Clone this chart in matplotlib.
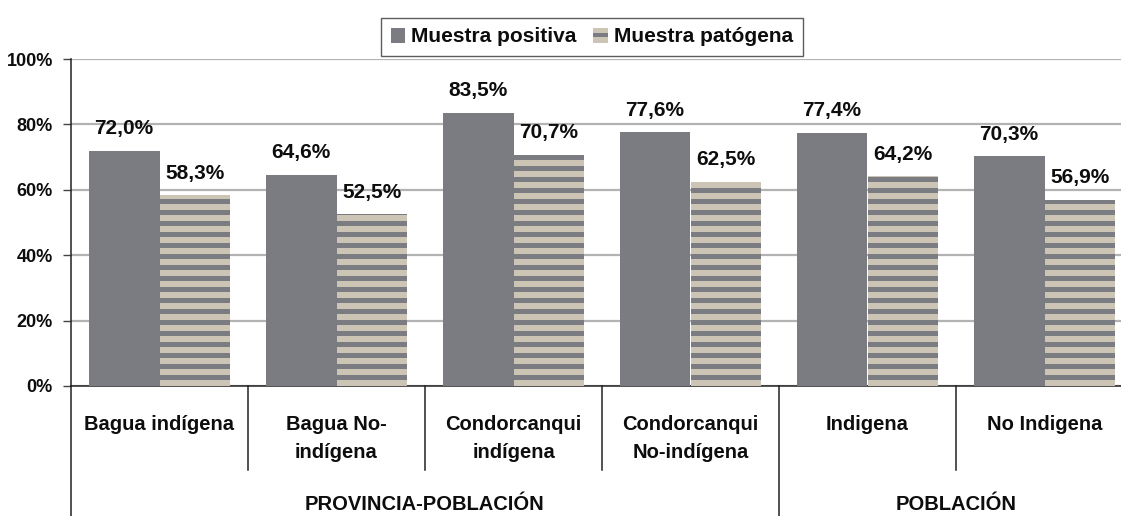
import numpy as np
import matplotlib
matplotlib.use("Agg")
import matplotlib.pyplot as plt
from matplotlib.lines import Line2D
from matplotlib.patches import Rectangle
from matplotlib.legend_handler import HandlerBase

categories = ["Bagua indígena", "Bagua No-\nindígena", "Condorcanqui\nindígena",
              "Condorcanqui\nNo-indígena", "Indigena", "No Indigena"]
positiva = [72.0, 64.6, 83.5, 77.6, 77.4, 70.3]
patogena = [58.3, 52.5, 70.7, 62.5, 64.2, 56.9]
series_names = ["Muestra positiva", "Muestra patógena"]
groups = ["PROVINCIA-POBLACIÓN", "POBLACIÓN"]
group_spans = [(0, 3), (4, 5)]
yticks = [0, 20, 40, 60, 80, 100]

FONT = ["Liberation Sans", "DejaVu Sans"]
plt.rcParams["font.family"] = FONT

GRAY = "#7b7c82"
BEIGE = "#ccc5b5"
TXT = "#0d0d0d"

W, H = 1121, 516
fig = plt.figure(figsize=(W / 100, H / 100), dpi=100)
ax_l, ax_r, ax_t, ax_b = 71, 1133, 59, 386
ax = fig.add_axes([ax_l / W, 1 - ax_b / H, (ax_r - ax_l) / W, (ax_b - ax_t) / H])

x = np.arange(len(categories))
bw = 0.4
b1 = ax.bar(x - bw / 2, positiva, bw, color=GRAY, zorder=3, label=series_names[0])
b2 = ax.bar(x + bw / 2, patogena, bw, color=BEIGE, zorder=3, label=series_names[1])

# horizontal stripes on the patterned bars
px_per_unit = (ax_b - ax_t) / 100.0
period = 11 / px_per_unit
stripe_start = 6 / px_per_unit
levels = np.arange(stripe_start, 100, period)
for rect in b2.patches:
    s = ax.bar(np.full(len(levels), rect.get_x() + rect.get_width() / 2), 5 / px_per_unit,
               rect.get_width(), bottom=levels, color=GRAY, zorder=4, linewidth=0)
    for sp in s.patches:
        sp.set_clip_path(rect)

# value labels
for rects, vals in ((b1, positiva), (b2, patogena)):
    for r, v in zip(rects.patches, vals):
        ax.annotate(f"{v:.1f}%".replace(".", ","), (r.get_x() + r.get_width() / 2, v),
                    xytext=(0, 9), textcoords="offset points", ha="center", va="bottom",
                    fontsize=15, fontweight="bold", color=TXT)

ax.set_ylim(0, 100)
ax.set_xlim(-0.5, len(categories) - 0.5)
ax.set_yticks(yticks)
ax.set_yticklabels([f"{t}%" for t in yticks], fontsize=13, fontweight="bold", color=TXT)
ax.yaxis.grid(True, color="#b3b3b3", linewidth=1.6, zorder=0)
ax.set_axisbelow(True)
ax.tick_params(axis="y", length=6, width=1, color="#444444", pad=7)
ax.set_xticks([])
for s in ("top", "right"):
    ax.spines[s].set_visible(False)
for s in ("left", "bottom"):
    ax.spines[s].set_color("#222222")
    ax.spines[s].set_linewidth(1.1)

trans = ax.get_xaxis_transform()
hpx = ax_b - ax_t
def fy(py):
    return (ax_b - py) / hpx

# category labels
for xi, c in zip(x, categories):
    ax.text(xi, fy(415), c, transform=trans, ha="center", va="top", fontsize=14.5,
            fontweight="bold", linespacing=1.6, color=TXT)

# dividers
for i in range(1, len(categories)):
    xd = i - 0.5
    long = any(xd == g[0] - 0.5 for g in group_spans[1:])
    ax.add_line(Line2D([xd, xd], [0, fy(516 if long else 470)], transform=trans,
                       color="#222222", linewidth=1.1, clip_on=False))
ax.add_line(Line2D([-0.5, -0.5], [0, fy(516)], transform=trans,
                   color="#222222", linewidth=1.1, clip_on=False))

# group labels
for g, (a, b) in zip(groups, group_spans):
    ax.text((a + b) / 2, fy(505), g, transform=trans, ha="center", va="center",
            fontsize=14.5, fontweight="bold", color=TXT)


class StripedHandler(HandlerBase):
    def create_artists(self, legend, orig_handle, xdescent, ydescent, width, height,
                       fontsize, trans):
        r1 = Rectangle((-xdescent, -ydescent), width, height, facecolor=BEIGE,
                       edgecolor="none", transform=trans)
        r2 = Rectangle((-xdescent, -ydescent + height * 0.36), width, height * 0.3,
                       facecolor=GRAY, edgecolor="none", transform=trans)
        return [r1, r2]


leg = fig.legend(handles=[b1, b2], labels=series_names, loc="center",
                 bbox_to_anchor=((387 + 797) / 2 / W, 1 - 37 / H), ncol=2,
                 frameon=True, fancybox=False, edgecolor="#333333",
                 prop={"weight": "bold", "size": 15, "family": FONT},
                 handlelength=0.7, handleheight=0.7, handletextpad=0.3,
                 columnspacing=0.8, borderpad=0.45, borderaxespad=0,
                 handler_map={b2: StripedHandler()})
leg.get_frame().set_linewidth(1.0)
for t in leg.get_texts():
    t.set_color(TXT)

fig.savefig("out.png", dpi=100)
